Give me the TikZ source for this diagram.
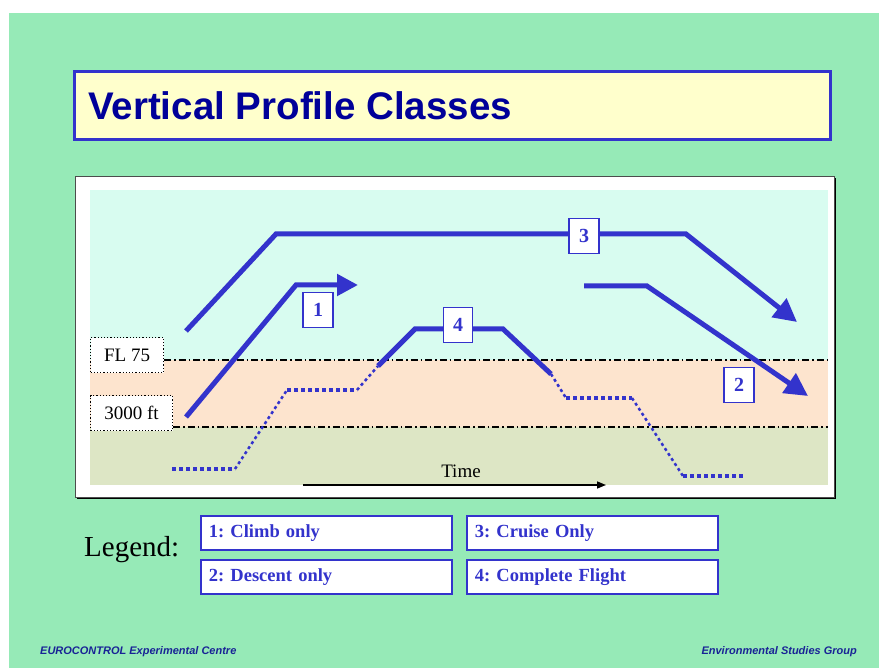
\documentclass[tikz,border=0pt]{standalone}
\usepackage{fontspec}
\setmainfont{Liberation Serif}
\newfontfamily\headfont{Liberation Sans}
\usetikzlibrary{arrows.meta}
\frenchspacing

\definecolor{slidegreen}{RGB}{150,234,183}
\definecolor{titlefill}{RGB}{255,255,204}
\definecolor{titleink}{RGB}{0,0,153}
\definecolor{profblue}{RGB}{51,51,204}
\definecolor{bandtop}{RGB}{216,252,240}
\definecolor{bandmid}{RGB}{253,228,206}
\definecolor{bandlow}{RGB}{221,230,197}
\definecolor{footink}{RGB}{25,35,150}

\tikzset{
  profile/.style={draw=profblue, line width=5pt},
  dotflat/.style={draw=profblue, line width=4pt, dash pattern=on 4pt off 3pt},
  dotslope/.style={draw=profblue, line width=2.5pt, dash pattern=on 3pt off 3pt},
  numbox/.style={draw=profblue, line width=1.5pt, fill=white, minimum width=30pt,
    minimum height=35pt, inner sep=0pt, text=profblue,
    font=\fontsize{20}{20}\selectfont\bfseries},
  levelbox/.style={draw=black, line width=1.2pt, dotted, fill=white, inner sep=0pt,
    minimum height=35pt, anchor=north west, font=\fontsize{19}{19}\selectfont},
  levelline/.style={draw=black, line width=1.5pt, dash pattern=on 7pt off 3pt on 1.5pt off 3pt},
  legbox/.style={draw=profblue, line width=1.8pt, fill=white, anchor=north west,
    minimum width=251pt, minimum height=34pt, text width=235pt, align=left,
    inner xsep=8pt, inner ysep=0pt, text=profblue,
    font=\fontsize{18.5}{18.5}\selectfont\bfseries},
  foot/.style={text=footink, inner sep=0pt,
    font=\headfont\fontsize{11}{11}\selectfont\bfseries\itshape}
}

\begin{document}
\begin{tikzpicture}[x=1pt,y=-1pt]
\useasboundingbox (0,0) rectangle (879,668);
\fill[white] (0,0) rectangle (879,668);
\fill[slidegreen] (9,13) rectangle (879,668);

% heading
\node[draw=profblue, line width=3pt, fill=titlefill, anchor=north west,
      minimum width=756pt, minimum height=68pt] (titlebox) at (73,70) {};
\node[anchor=base west, inner sep=0pt, text=titleink] (titletext) at (88,120)
  {\headfont\fontsize{38.5}{38.5}\selectfont\bfseries Vertical Profile Classes};

% chart frame (with a dark shadow edge) and altitude bands
\fill[black] (77,178) rectangle (836,499);
\node[draw=black!70, line width=1pt, fill=white, anchor=north west,
      minimum width=759pt, minimum height=321pt] (frame) at (75,176) {};
\fill[bandtop] (90,190) rectangle (828,360);
\fill[bandmid] (90,360) rectangle (828,427);
\fill[bandlow] (90,427) rectangle (828,485);

% level markers
\node[levelbox, minimum width=73pt] (fl75) at (90,337) {FL 75};
\node[levelbox, minimum width=82pt] (ft3000) at (90,395) {3000 ft};
\coordinate (flend) at (828,360);
\coordinate (ftend) at (828,427);
\draw[levelline] (fl75.east |- flend) -- (flend);
\draw[levelline] (ft3000.east |- ftend) -- (ftend);

% time axis
\coordinate (t0) at (303,485);
\coordinate (t1) at (606,485);
\draw[line width=1.5pt, -{Triangle[length=9pt,width=7pt]}] (t0) -- (t1);
\node[anchor=base, inner sep=0pt, font=\fontsize{19}{19}\selectfont] (timelabel) at (461,478) {Time};

% profile 3: cruise only
\coordinate (p3a) at (186,331);
\coordinate (p3b) at (276,234);
\coordinate (p3c) at (686,234);
\coordinate (p3d) at (797,322);
\draw[profile, -{Triangle[length=23pt,width=23pt]}] (p3a) -- (p3b) -- (p3c) -- (p3d);

% profile 1: climb only
\coordinate (p1a) at (186,417);
\coordinate (p1b) at (296,285);
\coordinate (p1c) at (358,285);
\draw[profile, -{Triangle[length=21pt,width=21pt]}] (p1a) -- (p1b) -- (p1c);

% profile 2: descent only
\coordinate (p2a) at (584,286);
\coordinate (p2b) at (647,286);
\coordinate (p2c) at (808,396);
\draw[profile, -{Triangle[length=23pt,width=23pt]}] (p2a) -- (p2b) -- (p2c);

% profile 4: complete flight
\coordinate (p4a) at (172,469);
\coordinate (p4b) at (235,469);
\coordinate (p4c) at (287,390);
\coordinate (p4d) at (357,390);
\coordinate (p4e) at (378,366);
\coordinate (p4f) at (415,329);
\coordinate (p4g) at (503,329);
\coordinate (p4h) at (551,374);
\coordinate (p4i) at (566,398);
\coordinate (p4j) at (632,398);
\coordinate (p4k) at (683,476);
\coordinate (p4l) at (743,476);
\draw[dotflat] (p4a) -- (p4b);
\draw[dotslope] (p4b) -- (p4c);
\draw[dotflat] (p4c) -- (p4d);
\draw[dotslope] (p4d) -- (p4e);
\draw[profile] (p4e) -- (p4f) -- (p4g) -- (p4h);
\draw[dotslope] (p4h) -- (p4i);
\draw[dotflat] (p4i) -- (p4j);
\draw[dotslope] (p4j) -- (p4k);
\draw[dotflat] (p4k) -- (p4l);

% profile numbers
\node[numbox] (n1) at (318,310) {1};
\node[numbox] (n2) at (739,385) {2};
\node[numbox] (n3) at (584,236) {3};
\node[numbox, minimum width=29pt] (n4) at (458,325) {4};

% legend
\node[anchor=base west, inner sep=0pt, font=\fontsize{29}{29}\selectfont] (legendlabel) at (84,556) {Legend:};
\node[legbox] (leg1) at (200,515) {1: Climb only};
\node[legbox] (leg2) at (200,559) {2: Descent only};
\node[legbox] (leg3) at (466,515) {3: Cruise Only};
\node[legbox] (leg4) at (466,559) {4: Complete Flight};

% footer
\node[foot, anchor=base west] (footleft) at (40,654) {EUROCONTROL Experimental Centre};
\node[foot, anchor=base east] (footright) at (857,654) {Environmental Studies Group};
\end{tikzpicture}
\end{document}
